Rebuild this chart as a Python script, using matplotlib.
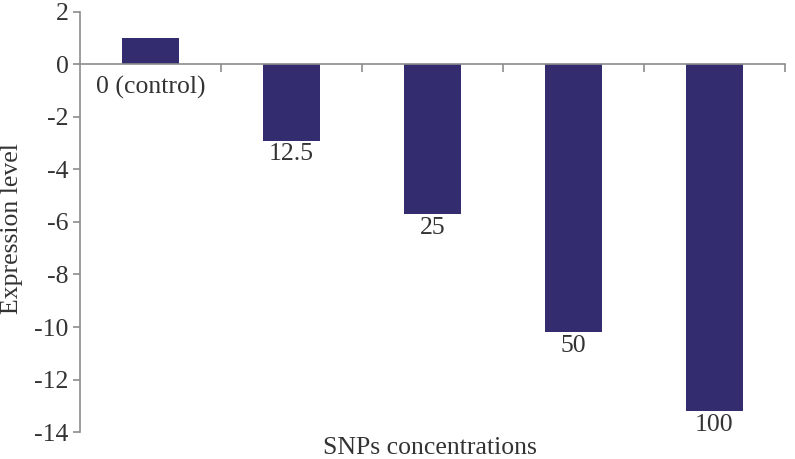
import numpy as np
import matplotlib.pyplot as plt

categories = ["0 (control)", "12.5", "25", "50", "100"]
expression = [1.0, -2.9, -5.7, -10.2, -13.2]
y_ticks = [2, 0, -2, -4, -6, -8, -10, -12, -14]

bar_color = "#332C6E"
axis_color = "#8c8c8c"
text_color = "#333333"
fs = 18.5

plt.rcParams["font.family"] = ["Liberation Serif", "DejaVu Serif"]

fig = plt.figure(figsize=(7.95, 4.59), dpi=100)
ax = fig.add_axes([0.1006, 0.0588, 0.8868, 0.9151])

x = np.arange(len(categories))
ax.bar(x, expression, width=0.4, color=bar_color, zorder=1)

# category labels sit just under the bar ends (under the axis for positives)
for xi, val, lab in zip(x, expression, categories):
    y = val - 0.1 if val < 0 else -0.45
    ax.text(xi, y, lab, ha="center", va="top", fontsize=fs, color=text_color)

ax.set_xlim(-0.5, len(categories) - 0.5)
ax.set_ylim(-14, 2)
ax.set_yticks(y_ticks)
ax.set_yticklabels([str(t) for t in y_ticks])
ax.set_xticks(np.arange(len(categories)) + 0.5)
ax.set_xticklabels([])

ax.spines["top"].set_visible(False)
ax.spines["right"].set_visible(False)
ax.spines["bottom"].set_position(("data", 0))
for s in ("left", "bottom"):
    ax.spines[s].set_color(axis_color)
    ax.spines[s].set_linewidth(1.2)
    ax.spines[s].set_zorder(3)

ax.tick_params(axis="y", direction="out", length=5, width=1.2, color=axis_color,
               labelsize=fs, labelcolor=text_color, pad=3)
ax.tick_params(axis="x", direction="out", length=6, width=1.2, color=axis_color)

fig.text(0.015, 0.501, "Expression level", rotation=90, ha="center",
         va="center", fontsize=fs, color=text_color)
fig.text(0.541, 0.024, "SNPs concentrations", ha="center", va="center",
         fontsize=fs, color=text_color)

fig.savefig("out.png", dpi=100)
